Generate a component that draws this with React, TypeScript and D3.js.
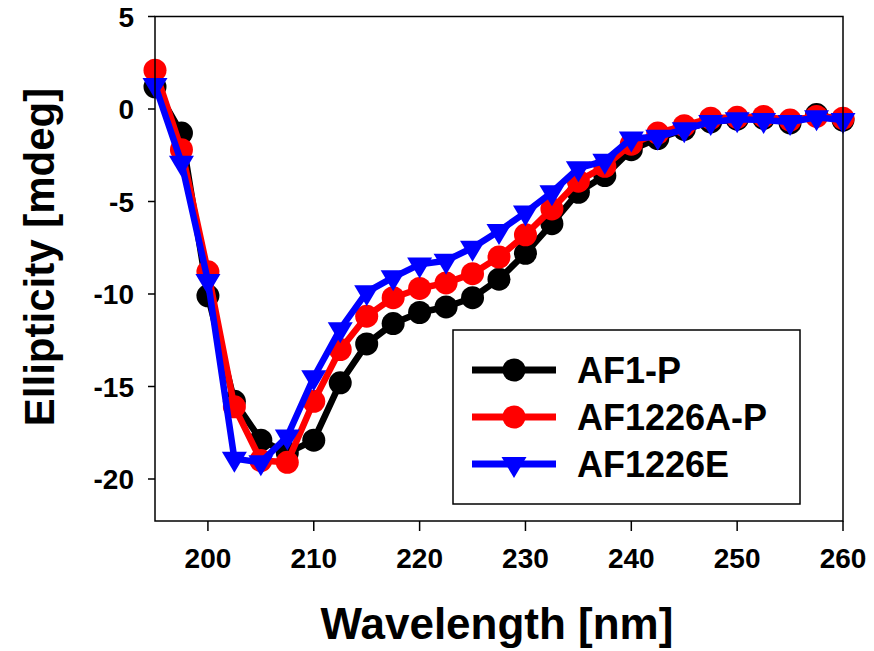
import React from "react";
import * as d3 from "d3";

const wavelengths = [195, 197.5, 200, 202.5, 205, 207.5, 210, 212.5, 215, 217.5, 220, 222.5, 225, 227.5, 230, 232.5, 235, 237.5, 240, 242.5, 245, 247.5, 250, 252.5, 255, 257.5, 260];
const af1p = [1.2, -1.3, -10.1, -15.8, -17.9, -18.6, -17.9, -14.8, -12.7, -11.6, -11.0, -10.7, -10.2, -9.2, -7.8, -6.2, -4.5, -3.6, -2.2, -1.6, -1.1, -0.7, -0.55, -0.5, -0.75, -0.3, -0.6];
const af1226ap = [2.1, -2.2, -8.8, -16.1, -19.0, -19.1, -15.8, -13.0, -11.2, -10.2, -9.7, -9.4, -8.9, -8.0, -6.8, -5.4, -3.9, -3.1, -1.9, -1.3, -0.9, -0.5, -0.45, -0.4, -0.6, -0.4, -0.5];
const af1226e = [1.3, -2.9, -9.3, -18.9, -19.1, -17.7, -14.5, -11.9, -9.9, -9.1, -8.4, -8.2, -7.5, -6.6, -5.6, -4.5, -3.2, -2.8, -1.6, -1.5, -1.1, -0.7, -0.55, -0.6, -0.7, -0.45, -0.6];
const seriesNames = ["AF1-P", "AF1226A-P", "AF1226E"];
const seriesColors = ["#000000", "#ff0000", "#0000ff"];
const seriesShapes = ["circle", "circle", "triangle"];
const xTicks = [200, 210, 220, 230, 240, 250, 260];
const yTicks = [5, 0, -5, -10, -15, -20];

const FONT = "'Liberation Sans', Arial, Helvetica, sans-serif";

export default function App() {
  const left = 155, right = 843, top = 16.5, bottom = 521;
  const x = d3.scaleLinear().domain([195, 260]).range([left, right]);
  const y = d3.scaleLinear().domain([5, -20]).range([top, 479]);
  const allSeries = [af1p, af1226ap, af1226e];
  const line = d3.line<[number, number]>().x(d => x(d[0])).y(d => y(d[1]));

  const marker = (shape: string, cx: number, cy: number, color: string, key: string | number) => {
    if (shape === "circle") return <circle key={key} cx={cx} cy={cy} r={11.5} fill={color} />;
    const pts = `${cx - 12.5},${cy - 7} ${cx + 12.5},${cy - 7} ${cx},${cy + 14}`;
    return <polygon key={key} points={pts} fill={color} />;
  };

  const legendRows = [370, 417, 464];

  return (
    <svg width={874} height={651} style={{ position: "absolute", left: 0, top: 0 }} fontFamily={FONT}>
      <rect x={0} y={0} width={874} height={651} fill="#fff" />
      {/* series */}
      {allSeries.map((vals, si) => {
        const pts: [number, number][] = wavelengths.map((w, i) => [w, vals[i]]);
        return (
          <g key={si}>
            <path d={line(pts) || ""} fill="none" stroke={seriesColors[si]} strokeWidth={6.5} strokeLinejoin="round" />
            {pts.map((p, i) => marker(seriesShapes[si], x(p[0]), y(p[1]), seriesColors[si], i))}
          </g>
        );
      })}
      {/* frame */}
      <rect x={left} y={top} width={right - left} height={bottom - top} fill="none" stroke="#000" strokeWidth={1.5} />
      {/* y ticks */}
      {yTicks.map(t => (
        <g key={t}>
          <line x1={left - 7} x2={left} y1={y(t)} y2={y(t)} stroke="#000" strokeWidth={1.5} />
          <text x={134} y={y(t) + 10} textAnchor="end" fontSize={28} fontWeight="bold">{t}</text>
        </g>
      ))}
      {/* x ticks */}
      {xTicks.map(t => (
        <g key={t}>
          <line x1={x(t)} x2={x(t)} y1={bottom} y2={bottom + 10} stroke="#000" strokeWidth={1.5} />
          <text x={x(t)} y={568} textAnchor="middle" fontSize={28} fontWeight="bold">{t}</text>
        </g>
      ))}
      {/* axis titles */}
      <text x={497} y={639} textAnchor="middle" fontSize={44} fontWeight="bold">Wavelength [nm]</text>
      <text transform={`translate(54,257) rotate(-90)`} textAnchor="middle" fontSize={42} fontWeight="bold">Ellipticity [mdeg]</text>
      {/* legend */}
      <rect x={453} y={330} width={347} height={174} fill="#fff" stroke="#000" strokeWidth={1.5} />
      {seriesNames.map((name, si) => (
        <g key={name}>
          <line x1={472} x2={556} y1={legendRows[si]} y2={legendRows[si]} stroke={seriesColors[si]} strokeWidth={7} />
          {marker(seriesShapes[si], 514, legendRows[si], seriesColors[si], "m")}
          <text x={577} y={legendRows[si] + 13} fontSize={36} fontWeight="bold">{name}</text>
        </g>
      ))}
    </svg>
  );
}
